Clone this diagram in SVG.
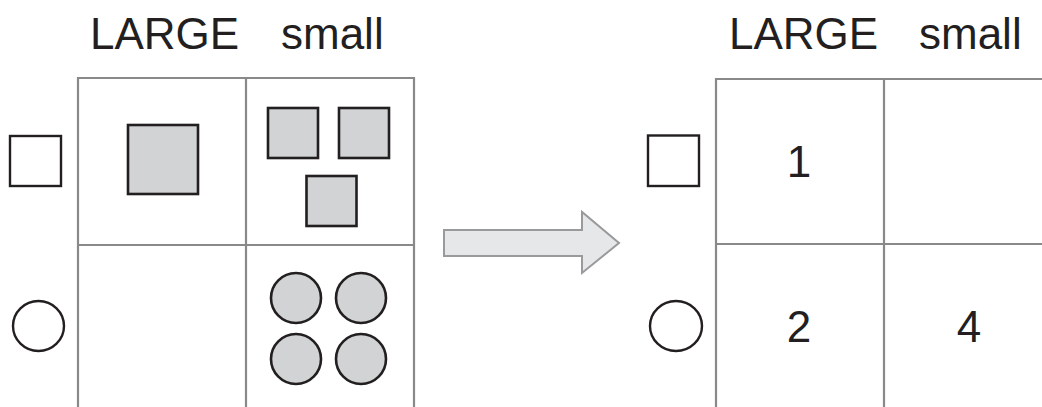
<svg xmlns="http://www.w3.org/2000/svg" width="1042" height="407" viewBox="0 0 1042 407">
<style>
.grid{stroke:#898989;stroke-width:2.2;fill:none}
.shape{fill:#d1d3d4;stroke:#231f20;stroke-width:2.6}
.legend{fill:#fff;stroke:#231f20;stroke-width:2.4}
.hdr{font-family:"Liberation Sans",Arial,sans-serif;font-size:44px;fill:#231f20}
.num{font-family:"Liberation Sans",Arial,sans-serif;font-size:44px;fill:#231f20;text-anchor:middle}
</style>
<rect width="1042" height="407" fill="#fff"/>
<g id="left-table">
<g id="left-headers">
<text class="hdr" x="90" y="49">LARGE</text>
<text class="hdr" x="281" y="49">small</text>
</g>
<g id="left-grid">
<path class="grid" d="M78,407 V78 H414 V407 M246,78 V407 M78,245 H414"/>
</g>
<g id="left-legend-square"><rect class="legend" x="10" y="136" width="51" height="50"/></g>
<g id="left-legend-circle"><ellipse class="legend" cx="38.5" cy="326" rx="25.5" ry="25"/></g>
<g id="large-square"><rect class="shape" x="128" y="125" width="70" height="69"/></g>
<g id="small-squares">
<rect class="shape" x="268" y="108" width="50" height="50"/>
<rect class="shape" x="339" y="108" width="50" height="50"/>
<rect class="shape" x="306.5" y="176" width="50" height="50"/>
</g>
<g id="small-circles">
<circle class="shape" cx="296" cy="298" r="25"/>
<circle class="shape" cx="361" cy="298" r="25"/>
<circle class="shape" cx="296" cy="359" r="25"/>
<circle class="shape" cx="361" cy="359" r="25"/>
</g>
</g>
<g id="connectors">
<path id="arrow" d="M444,230 H582 V212 L619,243 L582,273 V256 H444 Z" fill="#e6e7e8" stroke="#999a9c" stroke-width="2"/>
</g>
<g id="right-table">
<g id="right-headers">
<text class="hdr" x="729" y="49">LARGE</text>
<text class="hdr" x="919" y="49">small</text>
</g>
<g id="right-grid">
<path class="grid" d="M716,407 V79 H1042 M884,79 V407 M716,244 H1042"/>
</g>
<g id="right-legend-square"><rect class="legend" x="648" y="135.5" width="51" height="50.5"/></g>
<g id="right-legend-circle"><ellipse class="legend" cx="676" cy="326" rx="26" ry="25"/></g>
<g id="counts">
<text class="num" x="799" y="177">1</text>
<text class="num" x="799" y="342">2</text>
<text class="num" x="969" y="342">4</text>
</g>
</g>
</svg>
